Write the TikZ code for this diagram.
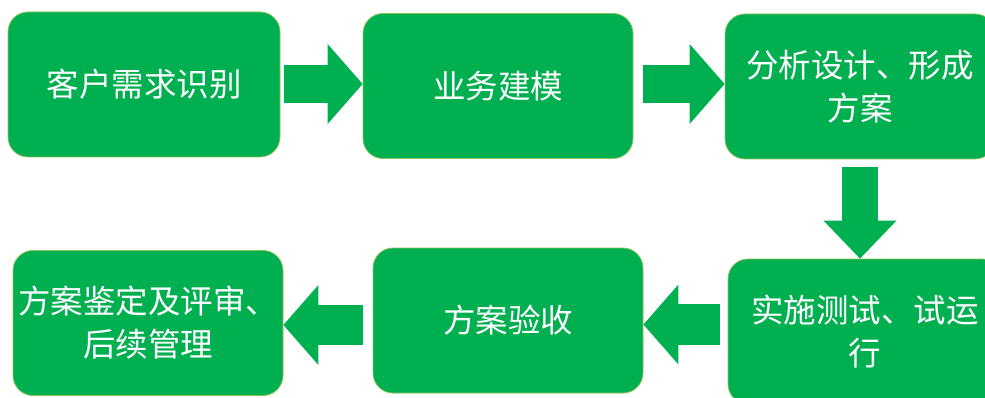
\documentclass[tikz,border=0pt]{standalone}
\usepackage{fontspec}
\newfontfamily\cjk{Noto Sans CJK SC}
\usetikzlibrary{arrows.meta,calc}
\definecolor{boxgreen}{HTML}{00B050}
\definecolor{edgegreen}{HTML}{8DC15A}
\begin{document}
\begin{tikzpicture}[x=1pt,y=-1pt,
  stagebox/.style={rounded corners=20pt, fill=boxgreen, draw=edgegreen, line width=0.8pt,
    minimum width=#1, minimum height=145pt, inner sep=0pt, text=white, align=center,
    font=\cjk\fontsize{32.5}{43}\selectfont},
  stagebox/.default=270pt,
  blockarr/.style={draw=boxgreen, line width=#1, line cap=butt,
    -{Triangle[width=80pt,length=35pt,line width=0pt,round=false]}},
  blockarr/.default=38pt]
\useasboundingbox (0,0) rectangle (985,398);
\node[stagebox=272pt] (b1) at (144,84.5) {客户需求识别};
\node[stagebox] (b2) at (498,86) {业务建模};
\node[stagebox] (b3) at (860,86.5) {分析设计、形成\\方案};
\node[stagebox=274pt] (b4) at (865,331.5) {实施测试、试运\\行};
\node[stagebox] (b5) at (508,320.5) {方案验收};
\node[stagebox] (b6) at (148,323) {方案鉴定及评审、\\后续管理};
% connectors
\coordinate (t1) at ([xshift=4pt,yshift=0.5pt]b1.east);
\draw[blockarr] (t1) -- (b2.west |- t1);
\coordinate (t2) at ([xshift=10pt,yshift=2pt]b2.east);
\draw[blockarr] (t2) -- (b3.west |- t2);
\coordinate (t3) at ([yshift=-8pt]b3.south);
\draw[draw=boxgreen, line width=36pt, -{Triangle[width=73pt,length=38pt,line width=0pt,round=false]}] (t3) -- (t3 |- b4.north);
\coordinate (t4) at ([xshift=-8pt,yshift=7pt]b4.west);
\draw[blockarr=41pt] (t4) -- (b5.east |- t4);
\coordinate (t5) at ([xshift=-10pt,yshift=-4.5pt]b5.west);
\draw[blockarr=40pt] (t5) -- (b6.east |- t5);
\end{tikzpicture}
\end{document}
